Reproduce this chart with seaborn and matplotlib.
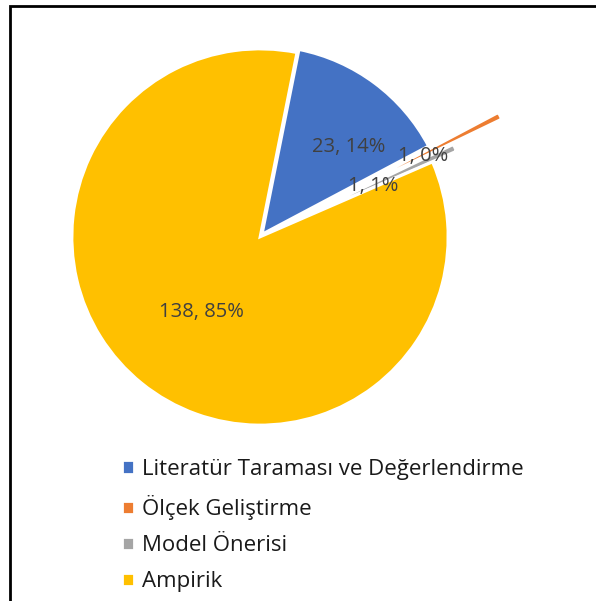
import matplotlib
matplotlib.use("Agg")
import matplotlib.pyplot as plt
from matplotlib.patches import Rectangle
import seaborn as sns

# === Data ===
categories = ["Literatür Taraması ve Değerlendirme", "Ölçek Geliştirme",
              "Model Önerisi", "Ampirik"]
counts = [23, 1, 1, 138]
pct_labels = ["14%", "0%", "1%", "85%"]
colors = ["#4472C4", "#ED7D31", "#A5A5A5", "#FFC000"]

# === Style ===
sns.set_theme(style="white")
plt.rcParams["font.family"] = ["Open Sans", "DejaVu Sans"]

W, H = 596, 601
fig = plt.figure(figsize=(W / 100, H / 100), dpi=100)

# pie: centre (260, 237) px, radius 188 px
R, cx, cy = 188, 260, 237
half = 1.5 * R
ax = fig.add_axes([(cx - half) / W, (H - cy - half) / H, 2 * half / W, 2 * half / H])

explode = [0.02, 0.43, 0.14, 0.0]
wedges, _ = ax.pie(counts, colors=colors, startangle=78.7, counterclock=False,
                   explode=explode,
                   wedgeprops={"edgecolor": "white", "linewidth": 2.0})
ax.set_xlim(-1.5, 1.5)
ax.set_ylim(-1.5, 1.5)
ax.set_aspect("equal")
ax.axis("off")

# data labels (positions in pie radius units)
label_pos = [(0.47, 0.48), (0.87, 0.43), (0.60, 0.27), (-0.31, -0.40)]
for c, p, (x, y) in zip(counts, pct_labels, label_pos):
    ax.text(x, y, f"{c}, {p}", ha="center", va="center",
            fontsize=14.5, color="#404040")

# legend
fig.legend(wedges, categories, loc="upper left",
           bbox_to_anchor=(122 / W, 1 - 459 / H), frameon=False,
           fontsize=16, handlelength=0.55, handleheight=0.55,
           handletextpad=0.35, labelspacing=0.68, borderpad=0,
           borderaxespad=0, labelcolor="#1a1a1a")

# chart frame (only top and left edges are visible in the crop)
fig.patches.append(Rectangle((10 / W, -0.05), 1.0, 1 - 6 / H + 0.05,
                             fill=False, edgecolor="black", linewidth=2,
                             transform=fig.transFigure, figure=fig))

fig.savefig("out.png", dpi=100)
